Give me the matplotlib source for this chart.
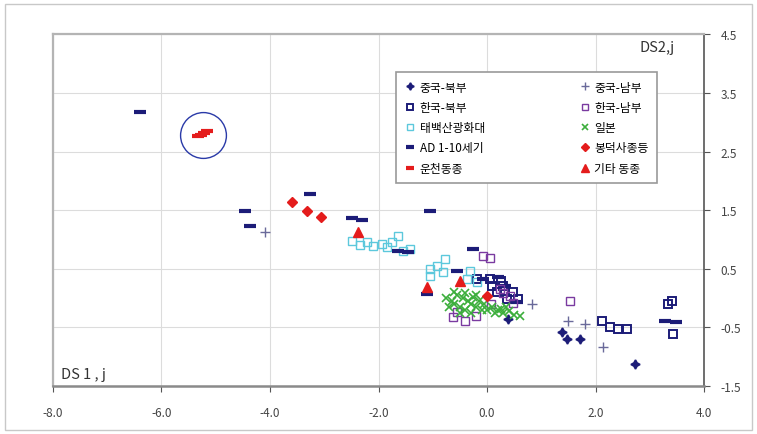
import matplotlib
matplotlib.use("Agg")
import matplotlib.pyplot as plt
import numpy as np
from matplotlib.patches import Rectangle

plt.rcParams['font.family'] = ['Noto Sans CJK KR', 'DejaVu Sans']

# ---- data (DS1,j , DS2,j) ----
cn_north_x = [1.38, 1.47, 1.71, 2.73, 0.39]
cn_north_y = [-0.58, -0.70, -0.70, -1.12, -0.36]

cn_south_x = [-4.09, 0.83, 1.49, 2.14, 1.81]
cn_south_y = [1.13, -0.10, -0.39, -0.83, -0.44]

kr_north_x = [-0.18, 0.06, 0.30, 0.48, 0.57, 0.18, 0.37, 0.10, 0.25, 2.12, 2.27, 2.41, 2.58, 3.34, 3.41, 3.43]
kr_north_y = [0.33, 0.33, 0.21, 0.10, -0.01, 0.10, -0.01, 0.20, 0.30, -0.39, -0.49, -0.53, -0.53, -0.10, -0.05, -0.61]

kr_south_x = [-0.07, 0.06, -0.55, -0.41, -0.63, 0.24, 0.42, 0.48, 1.53, 0.07, 0.30, -0.20]
kr_south_y = [0.72, 0.68, -0.24, -0.39, -0.32, 0.16, 0.04, -0.08, -0.05, -0.10, 0.08, -0.30]

taebaek_x = [-2.49, -2.21, -2.10, -1.94, -1.75, -1.64, -1.55, -1.42, -1.05, -0.92, -0.77, -1.05, -0.81, -0.31, -0.37, -0.18, -2.35, -1.85]
taebaek_y = [0.97, 0.96, 0.89, 0.92, 0.96, 1.06, 0.80, 0.84, 0.50, 0.55, 0.67, 0.38, 0.45, 0.46, 0.33, 0.28, 0.90, 0.88]

japan_x = [-0.75, -0.65, -0.60, -0.55, -0.50, -0.45, -0.40, -0.35, -0.30, -0.25, -0.20, -0.15, -0.10,
           -0.70, -0.50, -0.30, -0.20, 0.00, 0.10, 0.20, 0.30, 0.40, 0.50, 0.60, 0.35, 0.15, -0.60, -0.40, -0.05, 0.25]
japan_y = [0.00, -0.05, -0.10, 0.05, -0.15, 0.00, -0.20, -0.05, -0.10, 0.02, -0.15, -0.05, -0.20,
           -0.15, -0.25, -0.25, 0.05, -0.20, -0.15, -0.20, -0.25, -0.22, -0.28, -0.30, -0.15, -0.25, 0.10, 0.08, -0.10, -0.18]

ad_x = [-6.40, -4.46, -4.37, -3.26, -2.49, -2.30, -1.05, -1.64, -1.46, -0.26, -0.55, -1.11, -0.07, 0.20, 0.33, 0.55, 3.28, 3.48]
ad_y = [3.17, 1.49, 1.23, 1.77, 1.37, 1.33, 1.49, 0.80, 0.79, 0.84, 0.46, 0.07, 0.33, 0.36, 0.21, -0.07, -0.39, -0.41]

bongdeok_x = [-3.59, -3.32, -3.06, 0.00]
bongdeok_y = [1.64, 1.49, 1.38, 0.04]

uncheon_x = [-5.33, -5.27, -5.21, -5.16]
uncheon_y = [2.76, 2.79, 2.82, 2.85]

other_x = [-2.38, -1.11, -0.50]
other_y = [1.13, 0.19, 0.29]

x_ticks = [-8, -6, -4, -2, 0, 2, 4]
x_labels = ['-8.0', '-6.0', '-4.0', '-2.0', '0.0', '2.0', '4.0']
y_ticks = [4.5, 3.5, 2.5, 1.5, 0.5, -0.5, -1.5]
y_labels = ['4.5', '3.5', '2.5', '1.5', '0.5', '-0.5', '-1.5']

navy = '#1c1c78'
red = '#e41c1c'

fig = plt.figure(figsize=(7.57, 4.35), dpi=100)
fig.patches.append(Rectangle((0.006, 0.01), 0.988, 0.978, transform=fig.transFigure,
                             fill=False, edgecolor='#c8c8c8', lw=1.0))
ax = fig.add_axes([0.070, 0.110, 0.860, 0.809])

h = {}
h['cn_n'], = ax.plot(cn_north_x, cn_north_y, ls='none', marker=(4, 1, 0), ms=6.5, color=navy, mew=1.2, label='중국-북부')
h['kr_n'], = ax.plot(kr_north_x, kr_north_y, ls='none', marker='s', ms=5.5, mfc='none', mec=navy, mew=1.4, label='한국-북부')
h['tb'], = ax.plot(taebaek_x, taebaek_y, ls='none', marker='s', ms=5.5, mfc='none', mec='#5cc8dc', mew=1.0, label='태백산광화대')
h['ad'], = ax.plot(ad_x, ad_y, ls='none', marker='_', ms=8, color=navy, mew=3, label='AD 1-10세기')
h['un'], = ax.plot(uncheon_x, uncheon_y, ls='none', marker='_', ms=8, color=red, mew=3, label='운천동종')
h['cn_s'], = ax.plot(cn_south_x, cn_south_y, ls='none', marker='+', ms=7, color='#6a6a9a', mew=1.0, label='중국-남부')
h['kr_s'], = ax.plot(kr_south_x, kr_south_y, ls='none', marker='s', ms=5.5, mfc='none', mec='#7a3aa0', mew=1.0, label='한국-남부')
h['jp'], = ax.plot(japan_x, japan_y, ls='none', marker='x', ms=5.5, color='#3cae3c', mew=1.2, label='일본')
h['bd'], = ax.plot(bongdeok_x, bongdeok_y, ls='none', marker='D', ms=5, color=red, label='봉덕사종등')
h['ot'], = ax.plot(other_x, other_y, ls='none', marker='^', ms=6.5, color=red, label='기타 동종')

# circle highlighting the Uncheon-dong bell
ax.plot([np.mean(uncheon_x)], [np.mean(uncheon_y) - 0.03], ls='none', marker='o', ms=33,
        mfc='none', mec='#2a3aa8', mew=1.0)

ax.set_xlim(-8, 4)
ax.set_ylim(-1.5, 4.5)
ax.set_xticks(x_ticks)
ax.set_xticklabels(x_labels)
ax.set_yticks(y_ticks)
ax.set_yticklabels(y_labels)
ax.yaxis.tick_right()
ax.tick_params(axis='both', labelsize=8.5, colors='#555555', labelcolor='#444444', length=4, width=0.8)
ax.tick_params(axis='x', pad=10)
ax.tick_params(axis='y', pad=8)
ax.grid(True, color='#dcdcdc', lw=0.8)
ax.set_axisbelow(True)

for s in ['left', 'top']:
    ax.spines[s].set_color('#b4b4b4')
    ax.spines[s].set_linewidth(1.6)
ax.spines['right'].set_color('#555555')
ax.spines['right'].set_linewidth(1.2)
ax.spines['bottom'].set_color('#8a8a8a')
ax.spines['bottom'].set_linewidth(1.8)

ax.text(0.955, 0.985, 'DS2,j', transform=ax.transAxes, ha='right', va='top', fontsize=10.5, color='#333333')
ax.text(0.012, 0.015, 'DS 1 , j', transform=ax.transAxes, ha='left', va='bottom', fontsize=10.5, color='#333333')

order = ['cn_n', 'kr_n', 'tb', 'ad', 'un', 'cn_s', 'kr_s', 'jp', 'bd', 'ot']
leg = ax.legend([h[k] for k in order], [h[k].get_label() for k in order], ncol=2,
                loc='upper left', bbox_to_anchor=(0.527, 0.554, 0.401, 0.338), mode='expand',
                fontsize=8.5, frameon=True, fancybox=False, framealpha=1, edgecolor='#999999',
                handlelength=1.0, handletextpad=0.3, labelspacing=0.62,
                borderpad=0.7, borderaxespad=0, markerscale=0.8)
leg.get_frame().set_linewidth(1.2)

fig.savefig('out.png', dpi=100)
